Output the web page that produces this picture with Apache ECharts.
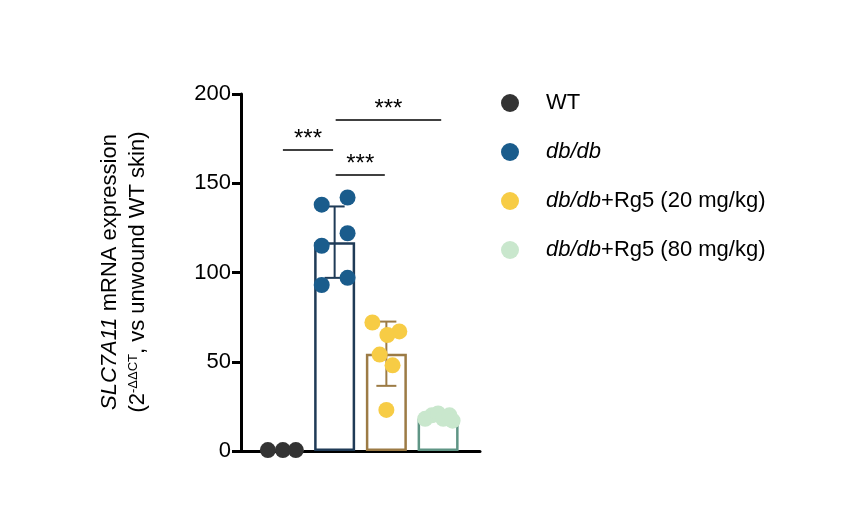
<!DOCTYPE html><html><head><meta charset="utf-8"><script src="https://cdn.jsdelivr.net/npm/echarts@6/dist/echarts.min.js"></script></head><body style="margin:0"><div id="c" style="width:865px;height:516px"></div><script>
const groups=['WT','db/db','db/db+Rg5 (20 mg/kg)','db/db+Rg5 (80 mg/kg)'];
const means=[0.5,117,54.5,18];
const sds=[0,20,18,0];
const pts=[[0.5,0.5,0.5],[138,142,122,115,93,97],[72,67,65,54,48,23],[18,20,21,18,20,17]];
const jit=[[-0.29,0,0.25],[-0.25,0.25,0.25,-0.25,-0.25,0.25],[-0.27,0.25,0.02,-0.13,0.12,0],[-0.25,-0.12,0,0.1,0.22,0.28]];
const dotColors=['#333333','#1a5c8c','#f7cc45','#c9e7cd'];
const barBorders=['#333333','#1f3b57','#9c7b45','#5f9585'];
const brackets=[[0.81,1.78,168.6],[1.83,2.78,154.6],[1.83,3.87,185.4]];
const off=0.81;
const series=[];
series.push({type:'bar',barWidth:41,silent:true,data:means.map((m,i)=>({value:[i+off,m],itemStyle:{color:'#fff',borderColor:barBorders[i],borderWidth:i==0?0:2.5}})),z:1});
series.push({type:'custom',silent:true,z:2,data:means.map((m,i)=>[i+off,m-sds[i],m+sds[i],i]),renderItem:(p,api)=>{const x=api.value(0);if(api.value(2)-api.value(1)<=0)return null;const a=api.coord([x,api.value(1)]),b=api.coord([x,api.value(2)]);const c=barBorders[api.value(3)];const st={stroke:c,lineWidth:2};return{type:'group',children:[{type:'line',shape:{x1:a[0],y1:a[1],x2:b[0],y2:b[1]},style:st},{type:'line',shape:{x1:a[0]-10,y1:a[1],x2:a[0]+10,y2:a[1]},style:st},{type:'line',shape:{x1:b[0]-10,y1:b[1],x2:b[0]+10,y2:b[1]},style:st}]};}});
groups.forEach((g,i)=>series.push({name:g,type:'scatter',symbolSize:16,z:3,itemStyle:{color:dotColors[i],opacity:1},data:pts[i].map((v,k)=>[i+off+jit[i][k],v])}));
series.push({type:'custom',silent:true,z:4,data:brackets,renderItem:(p,api)=>{const a=api.coord([api.value(0),api.value(2)]),b=api.coord([api.value(1),api.value(2)]);return{type:'group',children:[{type:'line',shape:{x1:a[0],y1:a[1],x2:b[0],y2:b[1]},style:{stroke:'#000',lineWidth:1.5}},{type:'text',style:{text:'***',x:(a[0]+b[0])/2,y:a[1]+1,align:'center',verticalAlign:'bottom',font:'24px Liberation Sans, Arial',fill:'#000'}}]};}});
const ch=echarts.init(document.getElementById('c'));
ch.setOption({animation:false,
grid:{left:241,right:385,top:94,bottom:65},
xAxis:{type:'value',min:0,max:4.62,axisLine:{lineStyle:{color:'#000',width:3}},axisTick:{show:false},axisLabel:{show:false},splitLine:{show:false}},
yAxis:{type:'value',min:0,max:200,interval:50,axisLine:{show:true,lineStyle:{color:'#000',width:3}},axisTick:{show:true,length:9,lineStyle:{width:3,color:'#000'}},axisLabel:{fontSize:22,color:'#000',fontFamily:'Liberation Sans',margin:10},splitLine:{show:false}},
legend:{orient:'vertical',left:496,top:87,itemGap:27,icon:'circle',itemWidth:18,itemHeight:18,data:groups,
formatter:n=>n.replace(/db\/db/g,'{i|db/db}'),textStyle:{fontSize:22,color:'#000',fontFamily:'Liberation Sans',padding:[0,0,0,22],rich:{i:{fontStyle:'italic',fontSize:22,fontFamily:'Liberation Sans',color:'#000'}}}},
graphic:[{type:'text',x:110,y:272,rotation:Math.PI/2,style:{text:'{i|SLC7A11} mRNA expression',align:'center',verticalAlign:'middle',font:'22px Liberation Sans',fill:'#000',rich:{i:{fontStyle:'italic',fontSize:22,fontFamily:'Liberation Sans'}}}},
{type:'text',x:138,y:272,rotation:Math.PI/2,style:{text:'(2{s|-ΔΔCT}, vs unwound WT skin)',align:'center',verticalAlign:'middle',font:'22px Liberation Sans',fill:'#000',rich:{s:{fontSize:13,fontFamily:'Liberation Sans',verticalAlign:'top',padding:[0,0,10,0]}}}}],
series});
</script></body></html>
